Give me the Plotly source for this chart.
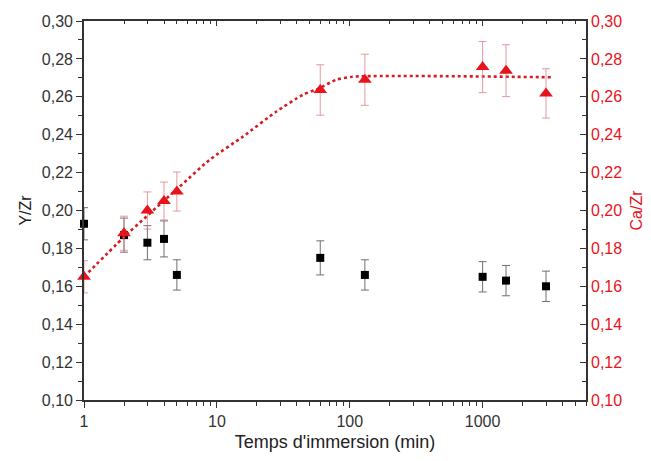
import math
import plotly.graph_objects as go

# Data
time_min = [1, 2, 3, 4, 5, 60, 130, 1000, 1500, 3000]
y_zr = [0.193, 0.187, 0.183, 0.185, 0.166, 0.175, 0.166, 0.165, 0.163, 0.160]
y_zr_err = [0.0085, 0.009, 0.009, 0.0095, 0.008, 0.009, 0.008, 0.008, 0.008, 0.008]
ca_zr = [0.165, 0.188, 0.200, 0.205, 0.210, 0.2636, 0.269, 0.2757, 0.2738, 0.2618]
ca_zr_err = [0.0085, 0.009, 0.0098, 0.010, 0.0103, 0.0133, 0.0135, 0.0135, 0.0137, 0.013]
fit_x = [1, 2, 5.25, 8.8, 15.7, 27.9, 44.2, 59, 78.6, 105, 3400]
fit_y = [0.165, 0.186, 0.2126, 0.2267, 0.239, 0.2521, 0.261, 0.2645, 0.2689, 0.2706, 0.2703]

x_major = [1, 10, 100, 1000]
x_major_text = ["1", "10", "100", "1000"]
x_minor = [m * 10 ** d for d in range(4) for m in range(2, 10) if m * 10 ** d <= 6000]

RED = "#e8141c"
FONT = "Liberation Sans, Arial, sans-serif"

fig = go.Figure()
fig.add_trace(go.Scatter(
    x=time_min, y=y_zr, mode="markers", cliponaxis=False,
    marker=dict(symbol="square", size=8, color="#000000"),
    error_y=dict(type="data", array=y_zr_err, color="#707070", thickness=1, width=4),
    xaxis="x", yaxis="y", showlegend=False))
fig.add_trace(go.Scatter(
    x=fit_x, y=fit_y, mode="lines", line=dict(color="#d41c22", width=2.6, dash="dot", shape="spline", smoothing=0.6),
    xaxis="x2", yaxis="y2", showlegend=False, cliponaxis=False))
fig.add_trace(go.Scatter(
    x=time_min, y=ca_zr, mode="markers", cliponaxis=False,
    marker=dict(symbol="triangle-up", size=12, color=RED),
    error_y=dict(type="data", array=ca_zr_err, color="rgba(220,120,130,0.75)", thickness=1, width=4),
    xaxis="x2", yaxis="y2", showlegend=False))

xr = [0, math.log10(6000)]
axis_line = dict(showline=True, linecolor="#333333", linewidth=1.6, showgrid=False, zeroline=False,
                 automargin=False)

fig.update_layout(
    width=651, height=461,
    margin=dict(l=84, r=65, t=21, b=61),
    paper_bgcolor="white", plot_bgcolor="white",
    font=dict(family=FONT, size=16, color="#333333"),
    separators=", ",
    xaxis=dict(type="log", range=xr, tickmode="array", tickvals=x_major, ticktext=x_major_text,
               ticks="outside", ticklen=6, tickwidth=1.4, tickcolor="#333333",
               minor=dict(tickmode="array", tickvals=x_minor, ticks="outside", ticklen=4, tickwidth=1.2, tickcolor="#333333"),
               title=dict(text="Temps d'immersion (min)", font=dict(size=18, color="#222222"), standoff=6),
               **axis_line),
    xaxis2=dict(type="log", range=xr, overlaying="x", side="top", tickmode="array", tickvals=x_major,
                showticklabels=False, ticks="inside", ticklen=5, tickwidth=1.4, tickcolor="#333333",
                minor=dict(tickmode="array", tickvals=x_minor, ticks="inside", ticklen=3, tickwidth=1.2, tickcolor="#333333"),
                **axis_line),
    yaxis=dict(range=[0.10, 0.30], dtick=0.02, tickformat=".2f",
               ticks="outside", ticklen=6, tickwidth=1.4, tickcolor="#333333",
               minor=dict(dtick=0.01, ticks="outside", ticklen=4, tickwidth=1.2, tickcolor="#333333"),
               title=dict(text="Y/Zr", font=dict(size=16, color="#222222"), standoff=6),
               **axis_line),
    yaxis2=dict(range=[0.10, 0.30], dtick=0.02, tickformat=".2f", overlaying="y", side="right",
                anchor="x2",
                ticks="inside", ticklen=6, tickwidth=1.4, tickcolor="#333333",
                minor=dict(dtick=0.01, ticks="inside", ticklen=4, tickwidth=1.2, tickcolor="#333333"),
                tickfont=dict(color=RED),
                title=dict(text="Ca/Zr", font=dict(size=16, color=RED), standoff=10),
                **axis_line),
)

fig.write_html("out.html")
